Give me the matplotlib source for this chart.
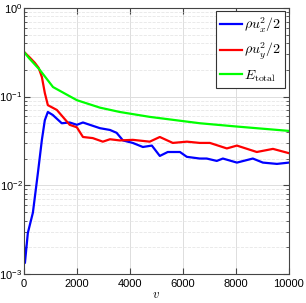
import numpy as np
import matplotlib
matplotlib.use("Agg")
import matplotlib.pyplot as plt

plt.rcParams["font.family"] = ["Liberation Sans", "DejaVu Sans"]
plt.rcParams["mathtext.fontset"] = "cm"

# Energy curves
v_x = [0, 40, 150, 340, 530, 680, 790, 905, 1090, 1430, 1730, 2000, 2230, 2490, 2870, 3250,
       3500, 3740, 4110, 4490, 4830, 5130, 5430, 5890, 6150, 6640, 6900, 7280, 7510, 8040,
       8640, 9020, 9550, 10000]
e_x = [0.0022, 0.00133, 0.0029, 0.0049, 0.0138, 0.0325, 0.054, 0.067, 0.062, 0.050, 0.051,
       0.048, 0.051, 0.048, 0.044, 0.042, 0.039, 0.032, 0.030, 0.027, 0.028, 0.0214, 0.0237,
       0.0237, 0.0209, 0.020, 0.020, 0.0188, 0.020, 0.018, 0.020, 0.018, 0.0174, 0.018]

v_y = [0, 200, 415, 560, 680, 790, 905, 1245, 1470, 1730, 2000, 2230, 2600, 2980, 3250, 3620,
       4110, 4750, 5130, 5620, 6150, 6640, 7020, 7660, 8040, 8790, 9400, 10000]
e_y = [0.32, 0.28, 0.24, 0.21, 0.166, 0.11, 0.080, 0.0706, 0.059, 0.048, 0.045, 0.035, 0.034,
       0.031, 0.033, 0.032, 0.0325, 0.031, 0.035, 0.030, 0.031, 0.030, 0.030, 0.026, 0.028,
       0.0237, 0.0257, 0.023]

v_t = [0, 200, 600, 1100, 2000, 2870, 3620, 4750, 6640, 8000, 10000]
e_t = [0.32, 0.27, 0.20, 0.128, 0.091, 0.075, 0.067, 0.059, 0.050, 0.046, 0.041]

fig = plt.figure(figsize=(3.06, 3.03), dpi=100)
ax = fig.add_axes([0.078, 0.096, 0.866, 0.878])

ax.plot(v_x, e_x, color=(0, 0, 1), lw=1.6, label=r"$\rho u_x^2/2$")
ax.plot(v_y, e_y, color=(1, 0, 0), lw=1.6, label=r"$\rho u_y^2/2$")
ax.plot(v_t, e_t, color=(0, 1, 0), lw=1.6, label=r"$E_{\rm total}$")

ax.set_yscale("log")
ax.set_xlim(0, 10000)
ax.set_ylim(1e-3, 1)
ax.set_xticks([0, 2000, 4000, 6000, 8000, 10000])
ax.set_xlabel(r"$v$", fontsize=9, labelpad=0)

ax.grid(True, which="major", color="#dddddd", lw=0.7, ls="-")
ax.grid(True, which="minor", axis="y", color="#e6e6e6", lw=0.6, ls="--")
ax.set_axisbelow(True)

ax.tick_params(which="both", direction="in", top=True, right=True, labelsize=8,
               color="#444444")
ax.tick_params(axis="y", pad=1)
ax.tick_params(axis="x", pad=3.5)
ax.tick_params(which="major", length=4)
ax.tick_params(which="minor", length=2)
for s in ax.spines.values():
    s.set_linewidth(0.8)
    s.set_color("#444444")

leg = ax.legend(loc="upper right", fontsize=10, fancybox=False, framealpha=1,
                edgecolor="#333333", borderpad=0.3, labelspacing=0.45,
                handlelength=1.6, handletextpad=0.15, borderaxespad=0.25)
leg.get_frame().set_linewidth(0.8)

fig.savefig("out.png", dpi=100)
